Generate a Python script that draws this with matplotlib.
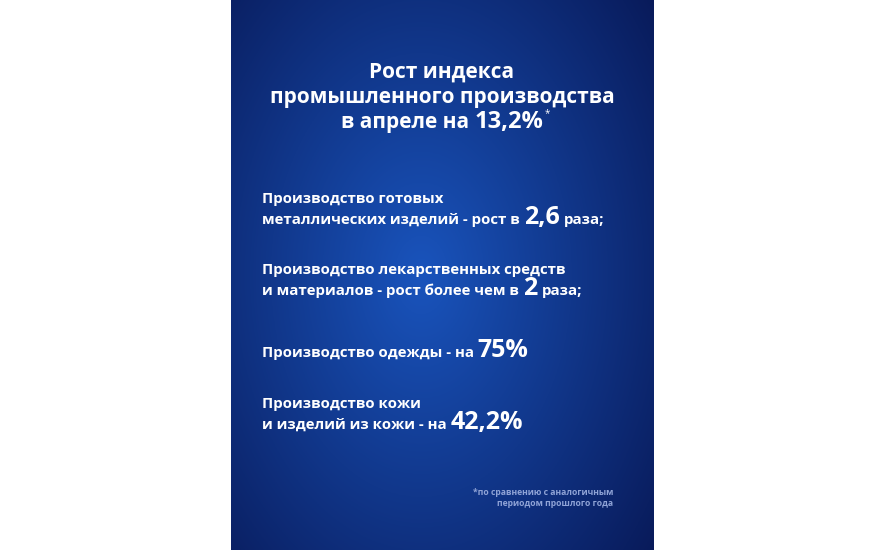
import numpy as np
import matplotlib.pyplot as plt

plt.rcParams['font.family'] = ['Open Sans', 'DejaVu Sans']

W, H = 886, 550
title_lines = ["Рост индекса", "промышленного производства"]
title_pct = 13.2
items = [
    (["Производство готовых", "металлических изделий - рост в "], 2.6, "", "раза;"),
    (["Производство лекарственных средств", "и материалов - рост более чем в "], 2, "", "раза;"),
    (["Производство одежды - на "], 75, "%", ""),
    (["Производство кожи", "и изделий из кожи - на "], 42.2, "%", ""),
]
item_y = [198, 269, 352, 403]
footnote = ["*по сравнению с аналогичным", "периодом прошлого года"]

fig = plt.figure(figsize=(W / 100, H / 100), dpi=100)
fig.patch.set_facecolor('white')

# gradient panel
pax = fig.add_axes([231 / W, 0, 423 / W, 1])
yy, xx = np.mgrid[0:1:300j, 0:1:240j]
r = np.sqrt(((xx - 0.45) / 0.75) ** 2 + ((yy - 0.5) / 0.85) ** 2)
r = np.clip(r, 0, 1)
c0 = np.array([0.10, 0.33, 0.74])
c1 = np.array([0.03, 0.09, 0.33])
img = c0 * (1 - r[..., None]) + c1 * r[..., None]
pax.imshow(img, aspect='auto', extent=[0, 1, 0, 1])
pax.axis('off')

ax = fig.add_axes([0, 0, 1, 1])
ax.set_xlim(0, W)
ax.set_ylim(H, 0)
ax.axis('off')
renderer = fig.canvas.get_renderer()


def fmt(v):
    s = f"{v:g}"
    return s.replace('.', ',')


def chain(x, y, parts):
    for txt, size, gap in parts:
        if not txt:
            continue
        t = ax.text(x, y, txt, fontsize=size, color='white', fontweight='bold',
                    ha='left', va='baseline')
        x += t.get_window_extent(renderer).width + gap
    return x


for i, line in enumerate(title_lines):
    ax.text(442, 78 + 25 * i, line, fontsize=15, color='white', fontweight='bold',
            ha='center', va='baseline')
parts = [("в апреле на ", 15, 0), (fmt(title_pct) + "%", 17, 0)]
tot = 0
for txt, size, _ in parts:
    t = ax.text(0, 0, txt, fontsize=size, fontweight='bold')
    tot += t.get_window_extent(renderer).width
    t.remove()
xe = chain(442 - tot / 2, 128, parts)
ax.text(xe + 1, 116, "*", fontsize=7, color='white', ha='left', va='baseline')

for (lines, val, unit, tail), y0 in zip(items, item_y):
    for j, line in enumerate(lines):
        y = y0 + 21 * j + 5
        if j == len(lines) - 1:
            chain(262, y, [(line, 10.8, 0), (fmt(val) + unit, 18, 5), (tail, 10.8, 0)])
        else:
            ax.text(262, y, line, fontsize=10.8, color='white', fontweight='bold',
                    ha='left', va='baseline')

for k, line in enumerate(footnote):
    ax.text(613, 495 + 11 * k, line, fontsize=6.2, color='#8fa3d6', fontweight='bold',
            ha='right', va='baseline')

fig.savefig('out.png', dpi=100)
